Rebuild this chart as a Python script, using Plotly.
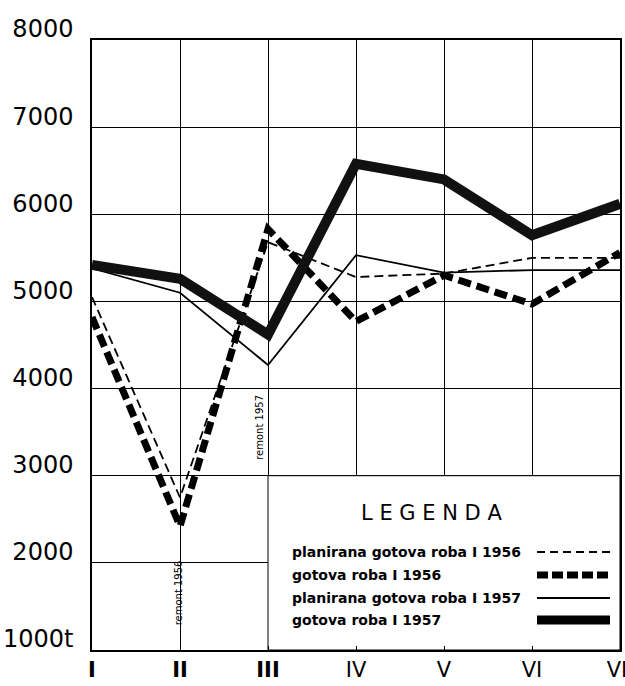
import plotly.graph_objects as go

months = ["I", "II", "III", "IV", "V", "VI", "VII"]
month_labels = ["<b>I</b>", "<b>II</b>", "<b>III</b>", "IV", "V", "VI", "VII"]

plan_1956 = [5050, 2750, 5680, 5280, 5320, 5500, 5500]
real_1956 = [4820, 2420, 5830, 4770, 5300, 4970, 5560]
plan_1957 = [5380, 5100, 4270, 5530, 5330, 5360, 5360]
real_1957 = [5420, 5260, 4620, 6580, 6400, 5760, 6120]

y_ticks = [1000, 2000, 3000, 4000, 5000, 6000, 7000, 8000]
y_tick_text = ["1000t", "2000", "3000", "4000", "5000", "6000", "7000", "8000"]

names = ["planirana gotova roba I 1956", "gotova roba I 1956",
         "planirana gotova roba I 1957", "gotova roba I 1957"]

FONT = "DejaVu Sans"
fig = go.Figure()

fig.add_trace(go.Scatter(x=months, y=plan_1957, mode="lines", name=names[2],
                         line=dict(color="black", width=1.8)))
fig.add_trace(go.Scatter(x=months, y=plan_1956, mode="lines", name=names[0],
                         line=dict(color="black", width=1.8, dash="9px,5px")))
fig.add_trace(go.Scatter(x=months, y=real_1956, mode="lines", name=names[1],
                         line=dict(color="black", width=7, dash="13px,6px")))
fig.add_trace(go.Scatter(x=months, y=real_1957, mode="lines", name=names[3],
                         line=dict(color="#111", width=10)))

# legend box covering grid
fig.add_shape(type="rect", xref="x", yref="y", x0=2, x1=6, y0=1000, y1=3000,
              fillcolor="white", line=dict(color="black", width=1), layer="between")

def px2paper(px, py):
    return (px - 92) / 528, (650 - py) / 610

lx, ly = px2paper(431, 513)
fig.add_annotation(xref="paper", yref="paper", x=lx, y=ly, text="L E G E N D A",
                   showarrow=False, font=dict(family=FONT, size=21, color="black"),
                   xanchor="center", yanchor="middle")

entry_y = [552, 575, 598, 620]
styles = [dict(width=1.8, dash="8px,5px"), dict(width=7, dash="11px,4px"),
          dict(width=1.8, dash="solid"), dict(width=9, dash="solid")]
for name, py, st in zip(names, entry_y, styles):
    tx, ty = px2paper(290, py)
    fig.add_annotation(xref="paper", yref="paper", x=tx, y=ty, text="<b>" + name + "</b>",
                       showarrow=False, font=dict(family=FONT, size=14, color="black"),
                       xanchor="left", yanchor="middle")
    sx0, sy = px2paper(537, py)
    sx1, _ = px2paper(610, py)
    fig.add_shape(type="line", xref="paper", yref="paper", x0=sx0, x1=sx1, y0=sy, y1=sy,
                  line=dict(color="black", **st))

fig.add_annotation(x="II", y=1650, xref="x", yref="y", text="remont 1956", textangle=-90,
                   showarrow=False, font=dict(family=FONT, size=10, color="black"), xshift=-2)
fig.add_annotation(x="III", y=3550, xref="x", yref="y", text="remont 1957", textangle=-90,
                   showarrow=False, font=dict(family=FONT, size=10, color="black"), xshift=-8)

fig.update_xaxes(type="category", range=[0, 6], tickvals=months, ticktext=month_labels,
                 showgrid=True, gridcolor="black", gridwidth=1,
                 showline=True, linecolor="black", linewidth=1.5, mirror=True,
                 ticks="inside", ticklen=4, tickcolor="black", automargin=False,
                 ticklabelstandoff=0,
                 tickfont=dict(family=FONT, size=21, color="black"), zeroline=False)
fig.update_yaxes(range=[1000, 8000], tickvals=y_ticks, ticktext=y_tick_text,
                 showgrid=True, gridcolor="black", gridwidth=1,
                 showline=True, linecolor="black", linewidth=1.5, mirror=True,
                 ticks="", ticklabelshift=-11, ticklabelstandoff=12, automargin=False,
                 tickfont=dict(family=FONT, size=24, color="black"), zeroline=False)

fig.update_layout(width=625, height=686, showlegend=False,
                  paper_bgcolor="white", plot_bgcolor="white",
                  margin=dict(l=92, r=5, t=40, b=36))

fig.write_html("out.html", config={"displayModeBar": False},
               post_script="document.body.style.margin='0';document.body.style.overflow='hidden';")
